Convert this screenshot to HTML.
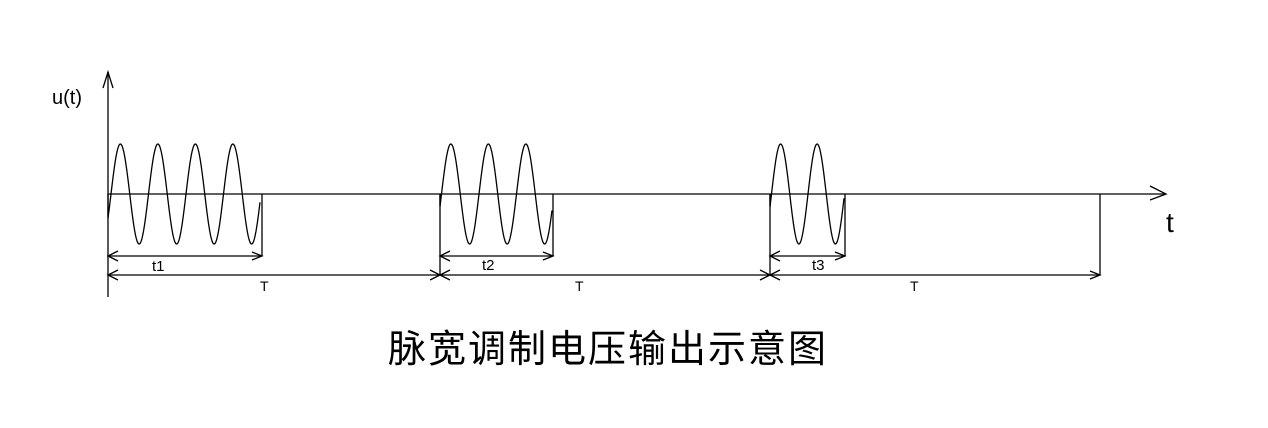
<!DOCTYPE html>
<html><head><meta charset="utf-8"><style>
body{margin:0;background:#fff;width:1268px;height:428px;overflow:hidden}
svg{display:block}
text{font-family:"Liberation Sans","DejaVu Sans",sans-serif;fill:#000}
</style></head><body>
<svg id="s" width="1268" height="428" viewBox="0 0 1268 428" xmlns="http://www.w3.org/2000/svg">
<g stroke="#000" stroke-width="1.3" fill="none">
<line x1="108" y1="72" x2="108" y2="297"/>
<polyline points="103,88 108,72 113,88"/>
<line x1="108" y1="194" x2="1165" y2="194"/>
<polyline points="1150,186 1166,194 1150,200"/>
<line x1="262" y1="194" x2="262" y2="256"/>
<line x1="440" y1="194" x2="440" y2="275"/>
<line x1="553" y1="194" x2="553" y2="256"/>
<line x1="770" y1="194" x2="770" y2="275"/>
<line x1="845" y1="194" x2="845" y2="256"/>
<line x1="1100" y1="194" x2="1100" y2="275"/>
<line x1="108" y1="256" x2="262" y2="256"/>
<line x1="440" y1="256" x2="553" y2="256"/>
<line x1="770" y1="256" x2="845" y2="256"/>
<line x1="108" y1="275" x2="1100" y2="275"/>
<path d="M118,251 L108,256 L118,261 M252,252 L262,256 L252,260 M450,251 L440,256 L450,261 M543,252 L553,256 L543,260 M780,251 L770,256 L780,261 M835,252 L845,256 L835,260"/>
<path d="M118,270 L108,275 L118,280 M430,270 L440,275 L430,280 M450,270 L440,275 L450,280 M760,270 L770,275 L760,280 M780,270 L770,275 L780,280 M1090,271 L1100,275 L1090,279"/>
<path id="w1"/><path id="w2"/><path id="w3"/>
</g>
<text x="52" y="104" font-size="20">u(t)</text>
<text x="1166" y="232" font-size="28">t</text>
<text x="152" y="271" font-size="15">t1</text>
<text x="260" y="291" font-size="14">T</text>
<text x="482" y="270" font-size="15">t2</text>
<text x="575" y="291" font-size="14">T</text>
<text x="812" y="270" font-size="15">t3</text>
<text x="910" y="291" font-size="14">T</text>
<text x="388" y="362" font-size="38" letter-spacing="2" style='font-family:"Liberation Sans","Noto Sans CJK SC",sans-serif'>脉宽调制电压输出示意图</text>
</svg>
<script>
function wave(id,x0,x1,p,off){
 var d="M"+x0+",194";
 for(var x=x0;x<=x1;x+=0.5){
  var y=194-50*Math.sin(2*Math.PI*(x-x0+off)/p);
  d+=" L"+x.toFixed(1)+","+y.toFixed(1);
 }
 document.getElementById(id).setAttribute("d",d);
}
wave("w1",108,260,37.5,-3);
wave("w2",440,552,37.5,-1.5);
wave("w3",770,844,36.5,-1.5);
</script>
</body></html>
